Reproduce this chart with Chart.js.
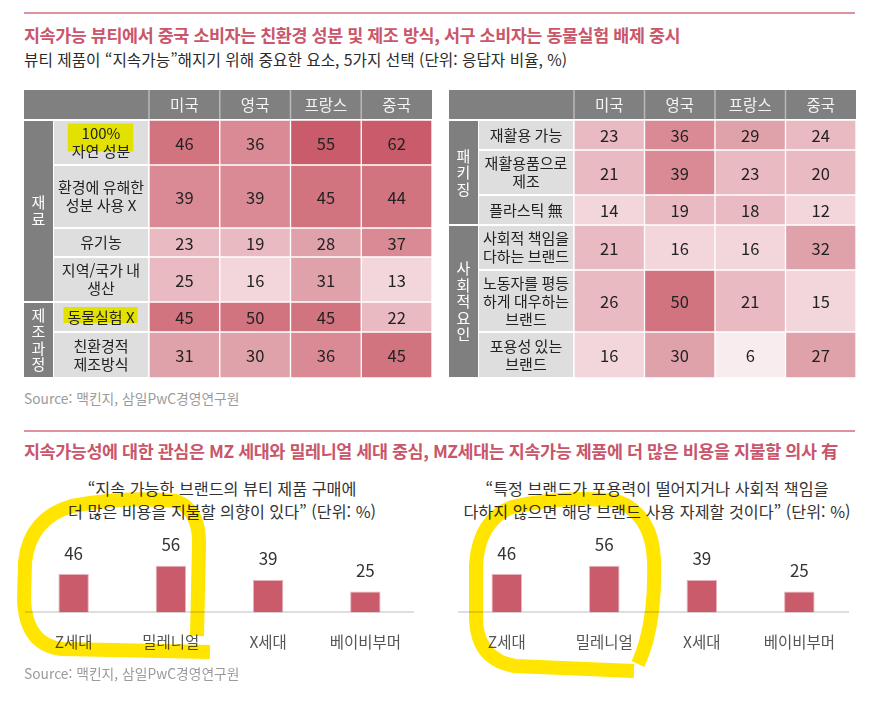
<!DOCTYPE html>
<html lang="ko">
<head>
<meta charset="utf-8">
<title>지속가능 뷰티</title>
<script src="https://cdn.jsdelivr.net/npm/chart.js@4.4.1/dist/chart.umd.min.js"></script>
<style>
  body { margin: 0; background: #fff; font-family: "Noto Sans CJK KR", "Noto Sans", sans-serif; }
  #page { position: relative; width: 885px; height: 701px; overflow: hidden; }
  .rule { position: absolute; left: 24px; width: 831px; height: 2px; background: #dc939e; }
  .title { position: absolute; left: 24px; font-size: 17.4px; font-weight: 700; color: #c9566a; line-height: 22px; white-space: nowrap; letter-spacing: -0.4px; }
  .sub { position: absolute; left: 24px; font-size: 15.7px; color: #2b2b2b; line-height: 22px; white-space: nowrap; }
  .src { position: absolute; left: 24px; font-size: 13.8px; color: #9b9b9b; line-height: 20px; white-space: nowrap; }
  .cap { position: absolute; width: 440px; text-align: center; font-size: 16.2px; color: #333; line-height: 23px; white-space: nowrap; }
  canvas { position: absolute; }
  #marker { position: absolute; left: 0; top: 0; mix-blend-mode: multiply; pointer-events: none; }
</style>
</head>
<body>
<div id="page">
  <div class="rule" style="top:12px"></div>
  <div class="title" style="top:24px">지속가능 뷰티에서 중국 소비자는 친환경 성분 및 제조 방식, 서구 소비자는 동물실험 배제 중시</div>
  <div class="sub" style="top:49px">뷰티 제품이 “지속가능”해지기 위해 중요한 요소, 5가지 선택 (단위: 응답자 비율, %)</div>
  <canvas id="t1" width="408" height="288" style="left:24px;top:90px"></canvas>
  <canvas id="t2" width="407" height="288" style="left:449px;top:90px"></canvas>
  <div class="src" style="top:388px">Source: 맥킨지, 삼일PwC경영연구원</div>

  <div class="rule" style="top:430px"></div>
  <div class="title" style="top:440px">지속가능성에 대한 관심은 MZ 세대와 밀레니얼 세대 중심, MZ세대는 지속가능 제품에 더 많은 비용을 지불할 의사 有</div>
  <div class="cap" style="left:2px;top:477px">“지속 가능한 브랜드의 뷰티 제품 구매에<br>더 많은 비용을 지불할 의향이 있다” (단위: %)</div>
  <div class="cap" style="left:437px;top:477px">“특정 브랜드가 포용력이 떨어지거나 사회적 책임을<br>다하지 않으면 해당 브랜드 사용 자제할 것이다” (단위: %)</div>
  <canvas id="b1" width="396" height="151" style="left:25px;top:520px"></canvas>
  <canvas id="b2" width="397" height="151" style="left:458px;top:520px"></canvas>
  <div class="src" style="top:663px">Source: 맥킨지, 삼일PwC경영연구원</div>

  <svg id="marker" width="885" height="701">
    <g fill="none" stroke="#ffe500" stroke-width="14" stroke-linejoin="round">
      <path d="M210 652 L62 649 Q26 645 24 600 L25 562 Q30 518 72 506 Q125 496 176 501 Q200 510 199 545 L197 636"/>
      <path d="M634 671 L515 666 Q478 660 476 620 L476 565 Q479 520 512 507 Q565 495 617 501 Q652 514 654 560 Q656 625 638 664"/>
    </g>
  </svg>
</div>

<script>
const countries = ['미국', '영국', '프랑스', '중국'];

const t1Groups = ['재료', '제조과정'];
const t1Rows = [['100%', '자연 성분'], ['환경에 유해한', '성분 사용 X'], ['유기농'], ['지역/국가 내', '생산'], ['동물실험 X'], ['친환경적', '제조방식']];
const t1GroupOf = [0, 0, 0, 0, 1, 1];
const t1Values = [
  [46, 36, 55, 62],
  [39, 39, 45, 44],
  [23, 19, 28, 37],
  [25, 16, 31, 13],
  [45, 50, 45, 22],
  [31, 30, 36, 45]
];

const t2Groups = ['패키징', '사회적요인'];
const t2Rows = [['재활용 가능'], ['재활용품으로', '제조'], ['플라스틱 無'], ['사회적 책임을', '다하는 브랜드'], ['노동자를 평등', '하게 대우하는', '브랜드'], ['포용성 있는', '브랜드']];
const t2GroupOf = [0, 0, 0, 1, 1, 1];
const t2Values = [
  [23, 36, 29, 24],
  [21, 39, 23, 20],
  [14, 19, 18, 12],
  [21, 16, 16, 32],
  [26, 50, 21, 15],
  [16, 30, 6, 27]
];

const generations = ['Z세대', '밀레니얼', 'X세대', '베이비부머'];
const payMore = [46, 56, 39, 25];
const avoidBrand = [46, 56, 39, 25];

// layout only (row heights in px, highlighted label rows)
const t1RowH = [45, 63, 29, 45, 30, 46];
const t2RowH = [30, 45, 30, 45, 62, 46];
const t1Marked = [0, 4];
const FONT = '"Noto Sans CJK KR", "Noto Sans", sans-serif';
const GROUP_W = 29;
const LINE_H = 18;

Chart.defaults.font.family = FONT;

function heat(v) {
  if (v < 10) return '#f8ecee';
  if (v < 18) return '#f2d6db';
  if (v < 27) return '#e9bac1';
  if (v < 34) return '#e0a2aa';
  if (v < 41) return '#d98a95';
  if (v < 51) return '#d27380';
  return '#ca5b6b';
}

function drawTable(id, rows, groupOf, groups, values, rowH, marked) {
  const bounds = [];
  let acc = 0;
  rowH.forEach(h => { bounds.push([acc, acc + h]); acc += h; });

  const datasets = values.map((vals, r) => ({
    data: vals.map(() => bounds[r]),
    backgroundColor: vals.map(heat),
    borderColor: '#ffffff',
    borderWidth: 1,
    borderSkipped: false,
    barPercentage: 1,
    categoryPercentage: 1,
    grouped: false
  }));

  const decor = {
    id: 'decor',
    beforeDraw(chart) {
      const { ctx, chartArea: a, scales: { x, y } } = chart;
      ctx.save();
      ctx.textAlign = 'center';
      ctx.textBaseline = 'middle';

      // header row
      ctx.fillStyle = '#808080';
      ctx.fillRect(0, 0, a.right, a.top - 1);
      const colW = (a.right - a.left) / countries.length;
      ctx.strokeStyle = '#b8b8b8';
      ctx.lineWidth = 1.5;
      for (let i = 0; i < countries.length; i++) {
        const x0 = a.left + i * colW;
        ctx.beginPath();
        ctx.moveTo(x0, 0);
        ctx.lineTo(x0, a.top - 1);
        ctx.stroke();
      }
      ctx.fillStyle = '#f4f4f4';
      ctx.font = '15.5px ' + FONT;
      countries.forEach((c, i) => ctx.fillText(c, x.getPixelForValue(i), a.top / 2));

      // group column
      groups.forEach((g, gi) => {
        const idx = [];
        groupOf.forEach((v, r) => { if (v === gi) idx.push(r); });
        const top = y.getPixelForValue(bounds[idx[0]][0]);
        const bot = y.getPixelForValue(bounds[idx[idx.length - 1]][1]);
        ctx.fillStyle = '#7f7f7f';
        ctx.fillRect(0, top + 1, GROUP_W, bot - top - 2);
        ctx.fillStyle = '#ffffff';
        ctx.font = '15px ' + FONT;
        const chars = [...g];
        const mid = (top + bot) / 2;
        chars.forEach((ch, k) => ctx.fillText(ch, GROUP_W / 2, mid + (k - (chars.length - 1) / 2) * 16.5));
      });

      // label column
      ctx.font = '15px ' + FONT;
      rows.forEach((lines, r) => {
        const top = y.getPixelForValue(bounds[r][0]);
        const bot = y.getPixelForValue(bounds[r][1]);
        ctx.fillStyle = '#dedede';
        ctx.fillRect(GROUP_W + 1, top + 1, a.left - GROUP_W - 2, bot - top - 2);
        const cx = (GROUP_W + a.left) / 2;
        const mid = (top + bot) / 2;
        if (marked.includes(r)) {
          const w = Math.max(...lines.map(l => ctx.measureText(l).width));
          const h = lines.length * LINE_H;
          ctx.fillStyle = '#e3e100';
          ctx.fillRect(cx - w / 2 - 4, mid - h / 2 - 1, w + 7, h - (lines.length > 1 ? 8 : 2));
        }
        ctx.fillStyle = '#222222';
        lines.forEach((l, k) => ctx.fillText(l, cx, mid + (k - (lines.length - 1) / 2) * LINE_H));
      });
      ctx.restore();
    },
    afterDatasetsDraw(chart) {
      const { ctx } = chart;
      ctx.save();
      ctx.textAlign = 'center';
      ctx.textBaseline = 'middle';
      ctx.fillStyle = '#222222';
      ctx.font = '16.5px ' + FONT;
      chart.data.datasets.forEach((ds, r) => {
        chart.getDatasetMeta(r).data.forEach((bar, c) => {
          const p = bar.getCenterPoint();
          ctx.fillText(values[r][c], p.x, p.y + 1);
        });
      });
      ctx.restore();
    }
  };

  new Chart(document.getElementById(id), {
    type: 'bar',
    data: { labels: countries, datasets },
    options: {
      responsive: false,
      animation: false,
      events: [],
      layout: { padding: { left: 125, top: 30, right: 0, bottom: 0 } },
      plugins: { legend: { display: false }, tooltip: { enabled: false } },
      scales: {
        x: { display: false },
        y: { display: false, reverse: true, min: 0, max: acc }
      }
    },
    plugins: [decor]
  });
}

const barValues = {
  id: 'barValues',
  afterDatasetsDraw(chart) {
    const { ctx } = chart;
    ctx.save();
    ctx.textAlign = 'center';
    ctx.textBaseline = 'middle';
    ctx.fillStyle = '#333333';
    ctx.font = '17px ' + FONT;
    chart.getDatasetMeta(0).data.forEach((bar, i) => {
      ctx.fillText(chart.data.datasets[0].data[i], bar.x, bar.y - 21);
    });
    ctx.restore();
  }
};

function drawBars(id, values) {
  new Chart(document.getElementById(id), {
    type: 'bar',
    data: {
      labels: generations,
      datasets: [{
        data: values,
        backgroundColor: '#c95b6b',
        borderColor: '#e7b3bb',
        borderWidth: { top: 1, left: 1, right: 1, bottom: 0 },
        barPercentage: 0.313,
        categoryPercentage: 1
      }]
    },
    options: {
      responsive: false,
      animation: false,
      events: [],
      layout: { padding: 0 },
      plugins: { legend: { display: false }, tooltip: { enabled: false } },
      scales: {
        x: {
          grid: { display: false, drawTicks: false },
          border: { display: true, color: '#dedede', width: 2 },
          ticks: { color: '#555555', font: { size: 15.5 }, padding: 20 }
        },
        y: { display: false, min: 0, max: 111 }
      }
    },
    plugins: [barValues]
  });
}

drawTable('t1', t1Rows, t1GroupOf, t1Groups, t1Values, t1RowH, t1Marked);
drawTable('t2', t2Rows, t2GroupOf, t2Groups, t2Values, t2RowH, []);
drawBars('b1', payMore);
drawBars('b2', avoidBrand);
</script>
</body>
</html>
